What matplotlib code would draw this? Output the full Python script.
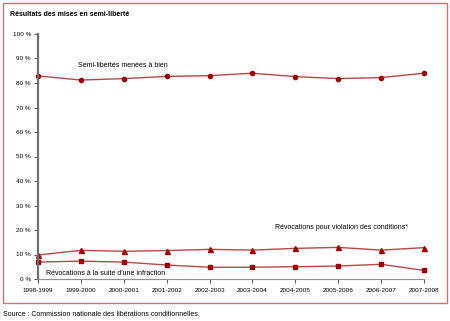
import matplotlib
matplotlib.use("Agg")
import matplotlib.pyplot as plt
from matplotlib.patches import Rectangle

plt.rcParams['font.family'] = ['Liberation Sans', 'DejaVu Sans']

# données (%)
years = ['1998-1999', '1999-2000', '2000-2001', '2001-2002', '2002-2003',
         '2003-2004', '2004-2005', '2005-2006', '2006-2007', '2007-2008']
menees_a_bien = [82.9, 81.2, 81.8, 82.7, 83.0, 84.0, 82.6, 81.8, 82.2, 84.0]
violation = [9.8, 11.7, 11.3, 11.6, 12.1, 11.8, 12.5, 12.9, 11.8, 12.8]
infraction = [6.9, 7.3, 6.9, 5.7, 4.8, 4.8, 5.0, 5.3, 6.0, 3.5]
yticks = list(range(0, 101, 10))

red = '#990000'
line_red = '#b84848'

fig = plt.figure(figsize=(4.5, 3.21), dpi=100)
ax = fig.add_axes([38/450, 1-279/321, 386/450, 245/321])

x = list(range(len(years)))
ax.plot(x, menees_a_bien, color=line_red, lw=1, marker='o', ms=3.0,
        mfc=red, mec=red, clip_on=False)
ax.plot(x, violation, color=line_red, lw=1, marker='^', ms=3.6,
        mfc=red, mec=red, clip_on=False)
ax.plot(x, infraction, color=line_red, lw=1, marker='s', ms=3.1,
        mfc=red, mec=red, clip_on=False)

ax.set_xlim(0, len(years) - 1)
ax.set_ylim(0, 100)
ax.set_xticks(x)
ax.set_xticklabels(years, fontsize=4.6)
ax.set_yticks(yticks)
ax.set_yticklabels([f'{v} %' for v in yticks], fontsize=4.6)
ax.tick_params(axis='both', length=3, width=0.8, color='#606060', pad=2)
ax.tick_params(axis='x', pad=3.5)

for s in ['top', 'right']:
    ax.spines[s].set_visible(False)
ax.spines['left'].set_color('#707070')
ax.spines['left'].set_linewidth(1.6)
ax.spines['bottom'].set_color('#909090')
ax.spines['bottom'].set_linewidth(0.8)

ax.text(0.93, 87.3, 'Semi-libertés menées à bien', fontsize=5, va='center')
ax.text(5.53, 21.2, 'Révocations pour violation des conditions*', fontsize=5, va='center')
ax.text(0.19, 2.3, "Révocations à la suite d'une infraction", fontsize=5, va='center')

fig.text(10/450, 1-15/321, 'Résultats des mises en semi-liberté', fontsize=5.0,
         fontweight='bold', va='center')
fig.text(3/450, 1-314/321, 'Source : Commission nationale des libérations conditionnelles.',
         fontsize=5, va='center')

fig.patches.append(Rectangle((3/450, 1-303/321), 444/450, 300/321,
                             transform=fig.transFigure, fill=False,
                             edgecolor='#c07878', lw=1))

fig.savefig('out.png', dpi=100)
